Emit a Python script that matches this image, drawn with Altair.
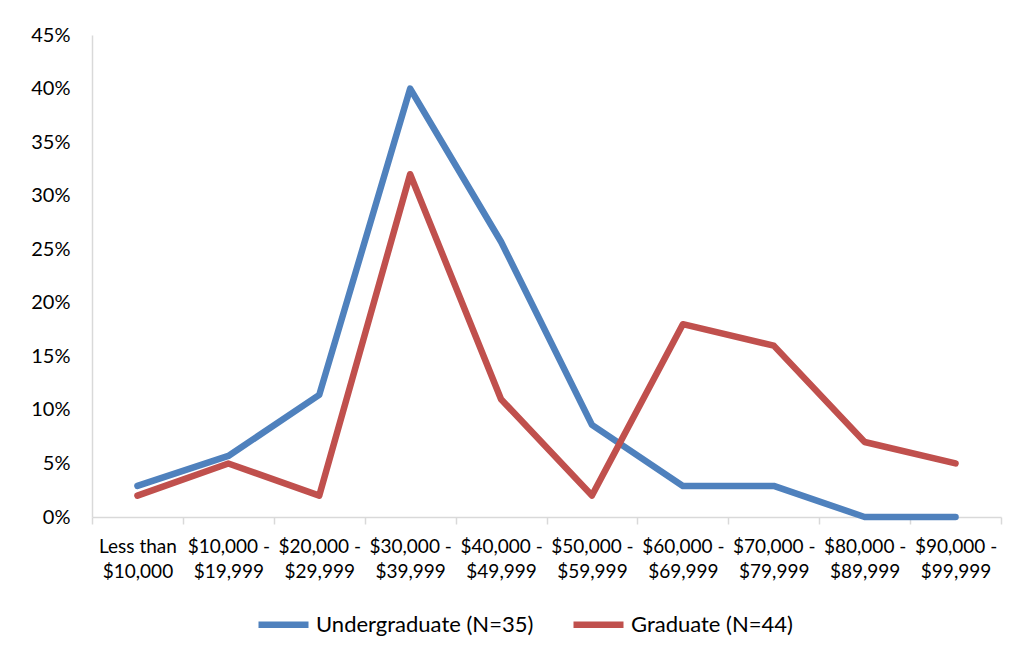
import altair as alt
import pandas as pd

categories = [
    "Less than\n$10,000", "$10,000 -\n$19,999", "$20,000 -\n$29,999",
    "$30,000 -\n$39,999", "$40,000 -\n$49,999", "$50,000 -\n$59,999",
    "$60,000 -\n$69,999", "$70,000 -\n$79,999", "$80,000 -\n$89,999",
    "$90,000 -\n$99,999",
]
undergrad = [2.9, 5.7, 11.4, 40.0, 25.7, 8.6, 2.9, 2.9, 0.0, 0.0]
graduate = [2.0, 5.0, 2.0, 32.0, 11.0, 2.0, 18.0, 16.0, 7.0, 5.0]
series_names = ["Undergraduate (N=35)", "Graduate (N=44)"]
colors = ["#4F81BD", "#C0504D"]

rows = []
for name, vals in zip(series_names, [undergrad, graduate]):
    for c, v in zip(categories, vals):
        rows.append({"category": c, "value": v / 100.0, "series": name})
df = pd.DataFrame(rows)

FONT = "Lato"

chart = alt.Chart(df).mark_line(strokeWidth=6.5, strokeCap="round", strokeJoin="round").encode(
    x=alt.X("category:N", sort=categories,
            scale=alt.Scale(paddingInner=0, paddingOuter=0),
            axis=alt.Axis(title=None, labelAngle=0, tickBand="extent",
                          labelExpr="split(datum.label, '\\n')",
                          labelLineHeight=25, labelPadding=13, tickSize=7,
                          domainColor="#D9D9D9", tickColor="#D9D9D9",
                          domainWidth=1.5, tickWidth=1.5,
                          labelFontSize=19, labelColor="#000000",
                          labelFont=FONT)),
    y=alt.Y("value:Q",
            scale=alt.Scale(domain=[0, 0.45], nice=False),
            axis=alt.Axis(title=None, format=".0%", values=[0, 0.05, 0.1, 0.15, 0.2, 0.25, 0.3, 0.35, 0.4, 0.45],
                          ticks=False, grid=False, labelPadding=22,
                          domainColor="#D9D9D9", domainWidth=1.5,
                          labelFontSize=20, labelColor="#000000", labelFont=FONT)),
    color=alt.Color("series:N", sort=series_names,
                    scale=alt.Scale(domain=series_names, range=colors),
                    legend=alt.Legend(title=None, orient="none", direction="horizontal",
                                      legendX=163, legendY=561,
                                      symbolType="stroke", symbolStrokeWidth=6.5,
                                      symbolSize=2500, labelFontSize=22,
                                      labelFont=FONT, labelColor="#000000",
                                      labelLimit=400,
                                      labelOffset=4, columnPadding=26)),
).properties(
    width=909, height=482,
    background="white",
    autosize=alt.AutoSizeParams(type="none"),
    padding={"left": 84, "top": 27, "right": 8, "bottom": 140},
).configure_view(strokeWidth=0, stroke="transparent")

chart.save("out.html", embed_options={"renderer": "svg", "actions": False})
